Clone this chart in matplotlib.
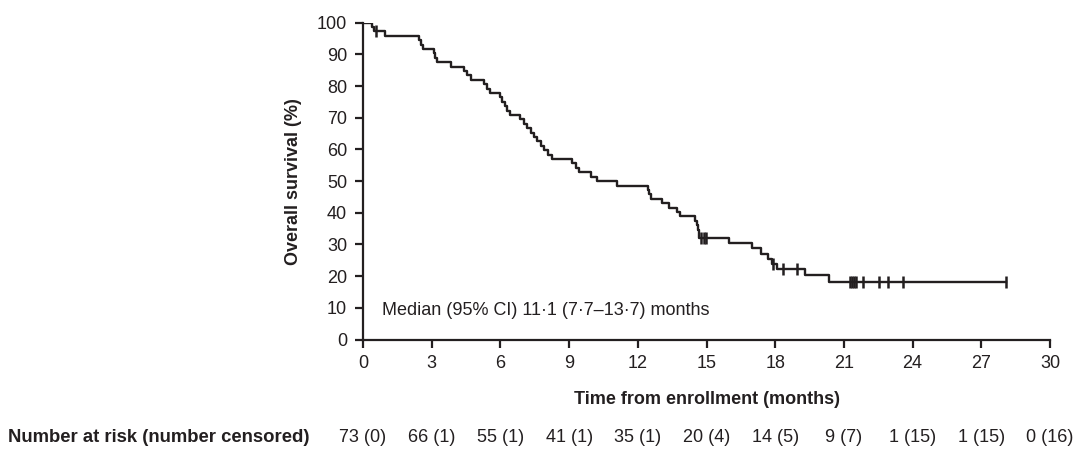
import matplotlib
matplotlib.use("Agg")
import matplotlib.pyplot as plt
from matplotlib.transforms import blended_transform_factory

plt.rcParams['font.family'] = ['Liberation Sans', 'DejaVu Sans']

# Kaplan-Meier steps (months, % surviving)
step_times = [0, 0.40, 0.47, 0.95, 2.46, 2.53, 2.60, 3.09, 3.16, 3.23, 3.84,
              4.40, 4.56, 4.72, 5.27, 5.40, 5.53, 5.97, 6.07, 6.19, 6.31, 6.43,
              6.87, 7.02, 7.17, 7.32, 7.47, 7.62, 7.77, 7.92, 8.08, 8.25,
              9.13, 9.28, 9.45, 9.95, 10.20, 11.10,
              12.46, 12.51, 12.56, 13.04, 13.37, 13.70, 13.85,
              14.50, 14.60, 14.63, 14.66, 14.69,
              16.00, 17.00, 17.40, 17.70, 17.85, 18.10, 19.30, 20.37, 28.08]
surv_pct = [100, 98.63, 97.26, 95.87, 94.48, 93.09, 91.70, 90.31, 88.92, 87.53, 86.14,
            84.75, 83.36, 81.97, 80.58, 79.19, 77.80, 76.41, 75.02, 73.63, 72.24, 70.85,
            69.46, 68.07, 66.68, 65.29, 63.90, 62.51, 61.12, 59.73, 58.34, 56.95,
            55.56, 54.17, 52.78, 51.39, 50.00, 48.61,
            47.22, 45.83, 44.44, 43.05, 41.66, 40.27, 38.88,
            37.49, 36.10, 34.71, 33.32, 31.93,
            30.33, 28.74, 27.14, 25.54, 23.95, 22.24, 20.22, 18.20, 18.20]

# censored patients (tick marks)
censor_times = [0.55, 14.78, 14.88, 14.97, 17.92, 18.35, 18.97,
                21.28, 21.36, 21.45, 21.54, 21.85, 22.53, 22.94, 23.60, 28.08]
censor_pct = [97.26, 31.93, 31.93, 31.93, 23.95, 22.24, 22.24,
              18.20, 18.20, 18.20, 18.20, 18.20, 18.20, 18.20, 18.20, 18.20]

risk_times = [0, 3, 6, 9, 12, 15, 18, 21, 24, 27, 30]
at_risk = [73, 66, 55, 41, 35, 20, 14, 9, 1, 1, 0]
censored = [0, 1, 1, 1, 1, 4, 5, 7, 15, 15, 16]

ink = '#231f20'
fs = 13

fig = plt.figure(figsize=(10.8, 4.55), dpi=100)
ax = fig.add_axes([363 / 1080, 115.5 / 455, 687 / 1080, 316.8 / 455])

ax.step(step_times, surv_pct, where='post', color=ink, lw=1.7)
ax.plot(censor_times, censor_pct, ls='none', marker='|', ms=8.5, mew=1.8, color=ink)

ax.set_xlim(0, 30)
ax.set_ylim(0, 100)
ax.set_xticks(risk_times)
ax.set_yticks(range(0, 101, 10))
for s in ['top', 'right']:
    ax.spines[s].set_visible(False)
for s in ['left', 'bottom']:
    ax.spines[s].set_linewidth(1.6)
    ax.spines[s].set_color(ink)
ax.tick_params(direction='out', length=6, width=1.6, colors=ink, labelsize=fs, pad=5.5)

ax.set_xlabel('Time from enrollment (months)', fontsize=fs, fontweight='bold', color=ink, labelpad=13)
ax.set_ylabel('Overall survival (%)', fontsize=fs, fontweight='bold', color=ink, labelpad=11)

ax.text(0.83, 9, 'Median (95% CI) 11·1 (7·7–13·7) months', fontsize=fs, color=ink, va='center')

# number at risk row
tr = blended_transform_factory(ax.transData, fig.transFigure)
y_row = 1 - 438 / 455
fig.text(8 / 1080, y_row, 'Number at risk (number censored)', fontsize=fs + 0.3,
         fontweight='bold', color=ink, va='center')
for t, n, c in zip(risk_times, at_risk, censored):
    ax.text(t, y_row, f'{n} ({c})', transform=tr, fontsize=fs, color=ink,
            ha='center', va='center', clip_on=False)

fig.savefig('out.png', dpi=100)
